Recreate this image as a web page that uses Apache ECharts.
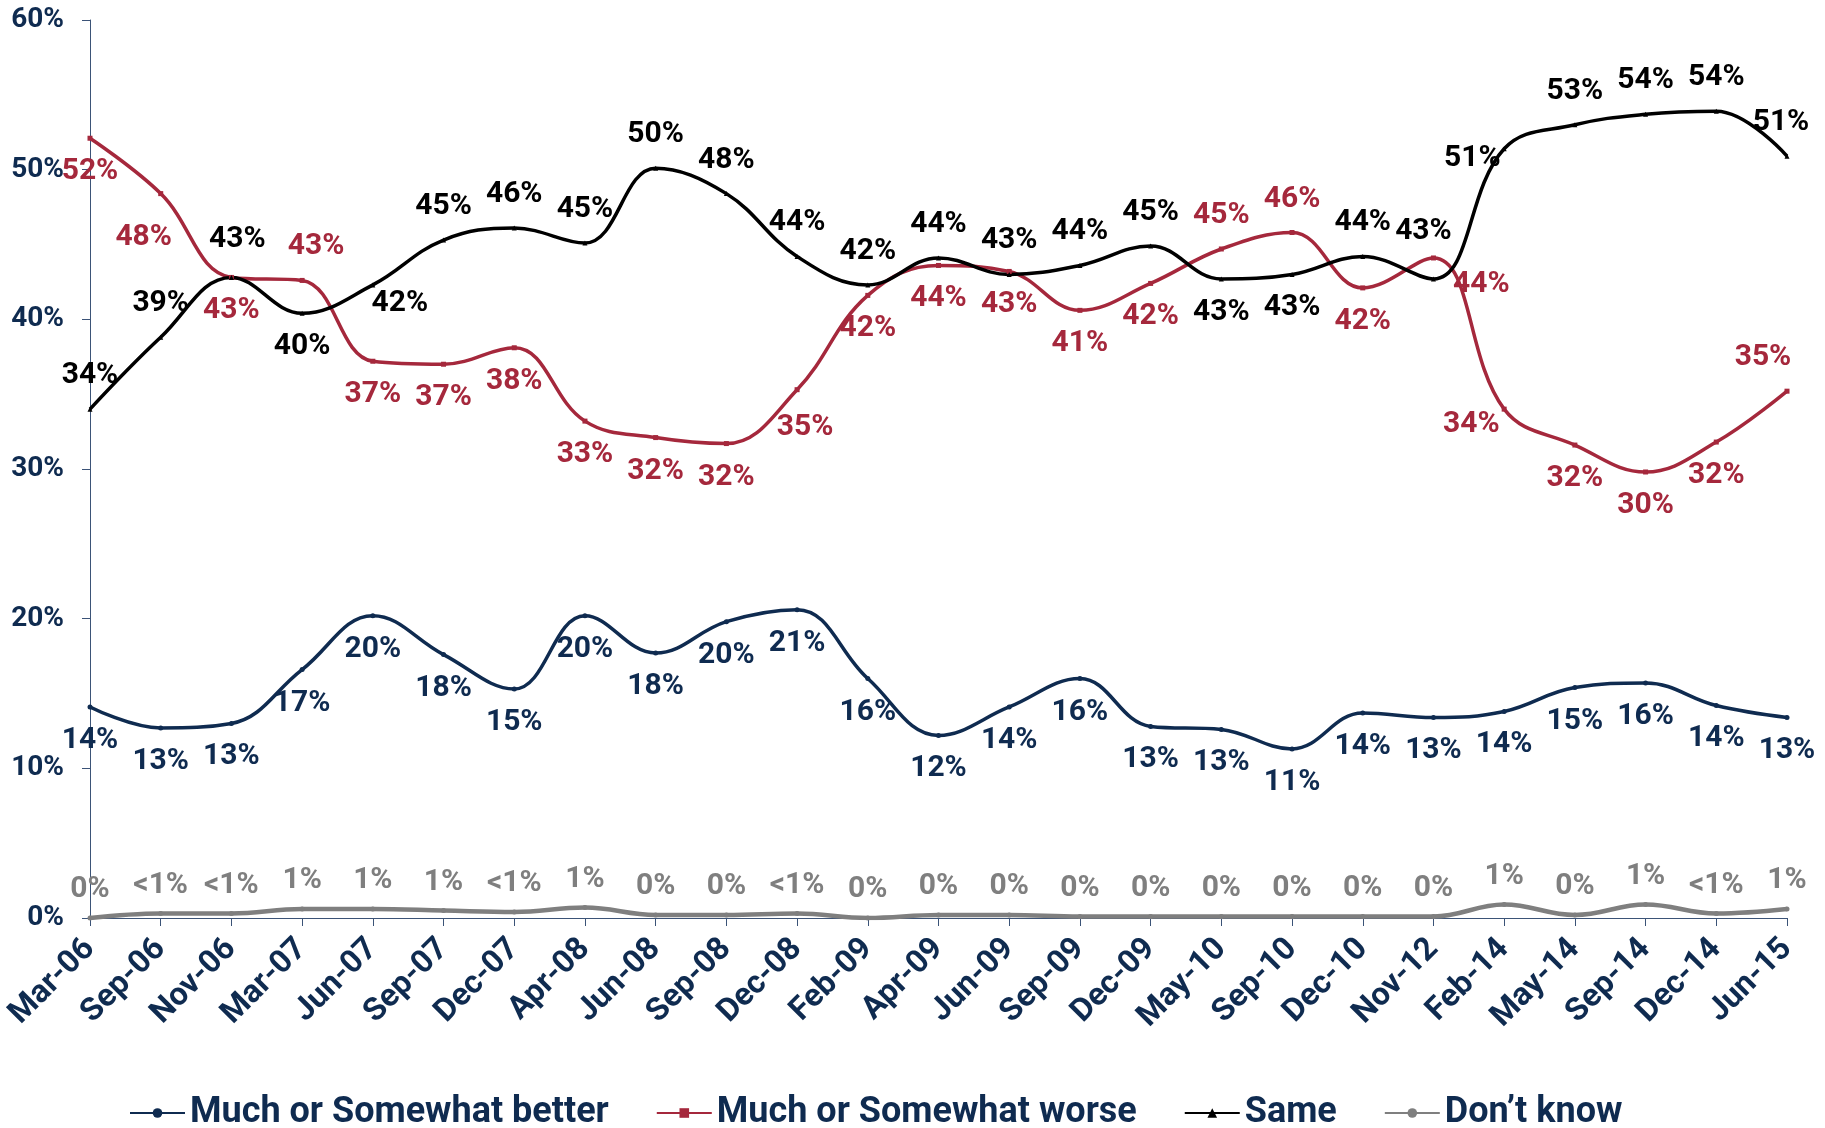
<!DOCTYPE html>
<html>
<head>
<meta charset="utf-8">
<script src="https://cdn.jsdelivr.net/npm/echarts@6/dist/echarts.min.js"></script>
<style>
  html, body { margin: 0; padding: 0; background: #fff; }
  #main { width: 1825px; height: 1128px; }
</style>
</head>
<body>
<div id="main"></div>
<script>
// categories and values
var categories = ['Mar-06','Sep-06','Nov-06','Mar-07','Jun-07','Sep-07','Dec-07','Apr-08','Jun-08','Sep-08','Dec-08','Feb-09','Apr-09','Jun-09','Sep-09','Dec-09','May-10','Sep-10','Dec-10','Nov-12','Feb-14','May-14','Sep-14','Dec-14','Jun-15'];
var better = [14.1,12.7,13.0,16.6,20.2,17.6,15.3,20.2,17.7,19.8,20.6,16.0,12.2,14.1,16.0,12.8,12.6,11.3,13.7,13.4,13.8,15.4,15.7,14.2,13.4];
var worse = [52.1,48.4,42.8,42.6,37.2,37.0,38.1,33.2,32.1,31.7,35.3,41.6,43.6,43.2,40.6,42.4,44.7,45.8,42.1,44.1,34.0,31.6,29.8,31.8,35.2];
var same = [34.0,38.8,42.8,40.4,42.3,45.3,46.1,45.1,50.1,48.4,44.2,42.3,44.1,43.0,43.6,44.9,42.7,43.0,44.2,42.7,51.4,53.0,53.7,53.9,50.9];
var dontKnow = [0,0.3,0.3,0.6,0.6,0.5,0.4,0.7,0.2,0.2,0.3,0,0.2,0.2,0.1,0.1,0.1,0.1,0.1,0.1,0.9,0.2,0.9,0.3,0.6];
var dontKnowLabels = ['0%','<1%','<1%','1%','1%','1%','<1%','1%','0%','0%','<1%','0%','0%','0%','0%','0%','0%','0%','0%','0%','1%','0%','1%','<1%','1%'];

// label placement (style only)
var worsePos = ['b','b','b','t','b','b','b','b','b','b','b','b','b','b','b','b','t','t','b','r','l','b','b','b','t'];
var worseShift = {1: [-17, 10], 3: [14, 0], 10: [8, 4], 19: [1, 27], 20: [14, 15], 24: [-24, 0]};
var samePos = ['t','t','t','b','b','t','t','t','t','t','t','t','t','t','t','t','b','b','t','t','l','t','t','t','t'];
var sameShift = {2: [6, -4], 4: [27, -15], 19: [-10, -14], 20: [15, 10], 24: [-6, 0]};

var NAVY = '#0f2b50';
var RED = '#a5283c';
var GRAY = '#7f7f7f';
var FONT = 'Roboto';

var posName = {t: 'top', b: 'bottom', l: 'left', r: 'right'};

function build(values, pos, shift, defPos) {
    return values.map(function (v, i) {
        var p = pos ? posName[pos[i]] : defPos;
        var item = {value: v, label: {position: p}};
        if (shift && shift[i]) item.label.offset = shift[i];
        return item;
    });
}

function lineSeries(name, data, color, symbol, width, fmt) {
    return {
        name: name,
        type: 'line',
        data: data,
        smooth: 0.4,
        symbol: symbol,
        symbolSize: 5,
        showAllSymbol: true,
        lineStyle: {color: color, width: width},
        itemStyle: {color: color},
        label: {
            show: true,
            distance: 16,
            color: color,
            fontFamily: FONT,
            fontWeight: 'bold',
            fontSize: 30,
            formatter: fmt || function (p) { return Math.round(p.value) + '%'; }
        },
        emphasis: {disabled: true}
    };
}

var myChart = echarts.init(document.getElementById('main'));

var dkSeries = lineSeries('Don\u2019t know', build(dontKnow, null, null, 'top'), GRAY, 'circle', 4.5,
    function (p) { return dontKnowLabels[p.dataIndex]; });
dkSeries.label.distance = 11;

var option = {
    animation: false,
    backgroundColor: '#fff',
    grid: {left: 90, right: 38, top: 20, bottom: 210},
    legend: {
        data: ['Much or Somewhat better', 'Much or Somewhat worse', 'Same', 'Don\u2019t know'],
        left: 124,
        top: 1090,
        itemWidth: 55,
        itemHeight: 12,
        itemGap: 47,
        textStyle: {color: NAVY, fontFamily: FONT, fontWeight: 'bold', fontSize: 36}
    },
    xAxis: {
        type: 'category',
        data: categories,
        boundaryGap: false,
        axisLine: {lineStyle: {color: '#3b5377', width: 1}},
        axisTick: {show: true, length: 8, lineStyle: {color: '#3b5377'}},
        axisLabel: {
            rotate: 45,
            margin: 26,
            interval: 0,
            color: NAVY,
            fontFamily: FONT,
            fontWeight: 'bold',
            fontSize: 32
        }
    },
    yAxis: {
        type: 'value',
        min: 0,
        max: 60,
        interval: 10,
        axisLine: {show: true, lineStyle: {color: '#3b5377', width: 1}},
        axisTick: {show: true, length: 8, lineStyle: {color: '#3b5377'}},
        splitLine: {show: false},
        axisLabel: {
            margin: 26,
            color: NAVY,
            fontFamily: FONT,
            fontWeight: 'bold',
            fontSize: 28,
            formatter: '{value}%'
        }
    },
    series: [
        lineSeries('Much or Somewhat better', build(better, null, null, 'bottom'), NAVY, 'circle', 3.5),
        lineSeries('Much or Somewhat worse', build(worse, worsePos, worseShift), RED, 'rect', 3.5),
        lineSeries('Same', build(same, samePos, sameShift), '#000000', 'triangle', 3.5),
        dkSeries
    ]
};

myChart.setOption(option);
</script>
</body>
</html>
